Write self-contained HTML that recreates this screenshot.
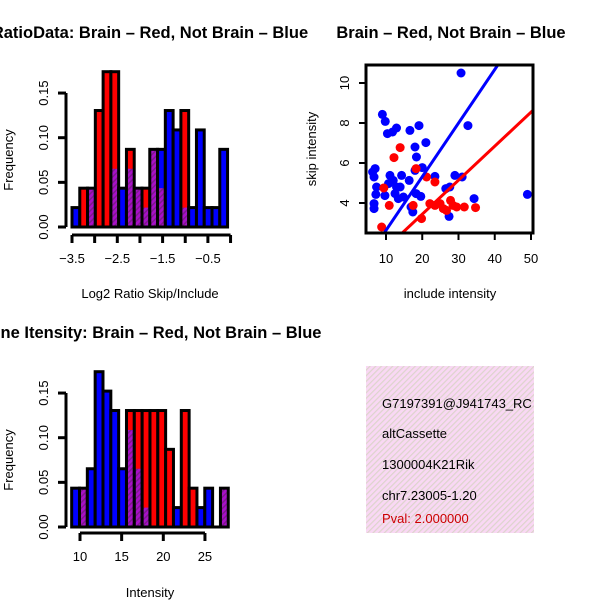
<!DOCTYPE html>
<html><head><meta charset="utf-8"><style>
html,body{margin:0;padding:0;background:#fff;}
svg{display:block;font-family:"Liberation Sans",sans-serif;}
</style></head><body>
<svg id="c" width="600" height="600" viewBox="0 0 600 600" xmlns="http://www.w3.org/2000/svg">
<defs>
<pattern id="purp" width="4" height="4" patternUnits="userSpaceOnUse" patternTransform="rotate(45)">
<rect width="4" height="4" fill="#a810c8"/><rect width="1.5" height="4" fill="#7d1a8c"/></pattern>
<pattern id="pink" width="4" height="4" patternUnits="userSpaceOnUse" patternTransform="rotate(45)">
<rect width="4" height="4" fill="#f9d8f4"/><rect width="1.2" height="4" fill="#ddd4cc"/></pattern>
<clipPath id="scClip"><rect x="366" y="65" width="167" height="168"/></clipPath>
<clipPath id="boxClip"><rect x="366" y="366" width="168" height="167"/></clipPath>
</defs>
<g id="h1"></g>
<g id="h2"></g>
<g id="sc"></g>
<g>
<rect x="366" y="366" width="168" height="167" fill="url(#pink)"/>
<g clip-path="url(#boxClip)" font-size="13">
<text x="382" y="408">G7197391@J941743_RC</text>
<text x="382" y="438">altCassette</text>
<text x="382" y="469">1300004K21Rik</text>
<text x="382" y="500">chr7.23005-1.20</text>
<text x="382" y="523" fill="#cc0000">Pval: 2.000000</text>
</g></g>
</svg>
<script>
// Histogram 1 data (units of 1/46)
const h1Red  = [0,2,2,6,8,8,0,4,2,2,4,2,0,0,6,0,0,0,0,0];
const h1Blue = [1,0,2,0,0,3,2,3,2,1,4,4,6,5,1,1,5,1,1,4];
const h1Start = -3.5, h1Width = 0.1717;
const h1Ticks = [-3.5,-3,-2.5,-2,-1.5,-1,-0.5,0];
const h1Labels = ["\u22123.5","","\u22122.5","","\u22121.5","","\u22120.5",""];
// Histogram 2 data
const h2Red  = [0,2,0,0,0,0,0,6,6,6,6,6,4,0,6,2,0,0,0,2];
const h2Blue = [2,2,3,8,7,6,3,5,3,1,0,0,0,1,0,0,1,2,0,2];
const h2Start = 9.0, h2Width = 0.94;
const h2Ticks = [10,15,20,25];
const yTicks = [0,0.05,0.10,0.15];
const yLabels = ["0.00","0.05","0.10","0.15"];
// Scatter data
const blueX = [9,9.8,10.4,11.8,12.9,16.6,19.1,21,18,18.4,30.7,32.6,6.3,7,6.7,7.4,7.2,6.7,6.7,9.7,11.1,12,12.9,12.5,13.4,14.3,14.8,16.4,18,20,18.3,19.6,16.9,17.4,23.5,26.5,27.6,29,31,34.3,27.4,49,13.9,10.7];
const blueY = [8.43,8.08,7.47,7.55,7.75,7.63,7.87,7.02,6.8,6.3,10.5,7.87,5.55,5.72,5.3,4.8,4.43,3.97,3.72,4.37,5.38,5.13,4.8,4.47,4.22,5.38,4.3,5.13,5.63,5.77,4.47,4.33,3.8,3.55,5.33,4.72,4.8,5.38,5.3,4.22,3.33,4.43,4.8,4.97];
const redX = [8.8,9.4,10.9,12.2,13.9,17.5,19.8,18.3,21.2,23.5,22.1,23.5,24.9,25.8,26.7,27.8,28.5,29.5,31.6,34.7];
const redY = [2.8,4.75,3.88,6.27,6.77,3.88,3.22,5.72,5.3,5.05,3.97,3.88,3.97,3.72,3.63,4.13,3.88,3.8,3.8,3.77];
const blueFit = [-0.046, 0.268];
const redFit = [0.04, 0.17];
const scXTicks = [10,20,30,40,50];
const scYTicks = [4,6,8,10];

const NS="http://www.w3.org/2000/svg";
function mk(parent, tag, attrs, text){const e=document.createElementNS(NS,tag);for(const k in attrs)e.setAttribute(k,attrs[k]);if(text!==undefined)e.textContent=text;parent.appendChild(e);return e;}

function hist(gid, red, blue, start, width, x0px, pxPerUnit, xStartVal, yBase, ticks, tickLabels, axisY, title, titleY, xlab, xlabY){
  const g=document.getElementById(gid);
  const X=v=>x0px+(v-xStartVal)*pxPerUnit;
  const Y=f=>yBase-f*893;
  const unit=1/46;
  for(let i=0;i<red.length;i++){
    const r=red[i], b=blue[i], hi=Math.max(r,b), lo=Math.min(r,b);
    const xa=X(start+i*width), xb=X(start+(i+1)*width);
    if(hi>0){
      const col = r>b ? "#ff0000" : (b>r ? "#0000ff" : "url(#purp)");
      const bar=mk(g,"rect",{x:xa,y:Y(hi*unit),width:xb-xa,height:yBase-Y(hi*unit),fill:col});
      
      
      if(lo>0){
        const ov=mk(g,"rect",{x:xa,y:Y(lo*unit),width:xb-xa,height:yBase-Y(lo*unit),fill:"url(#purp)"});
        
        
      }
      mk(g,"rect",{x:xa,y:Y(hi*unit),width:xb-xa,height:yBase-Y(hi*unit),fill:"none",stroke:"#000","stroke-width":3});
    }
  }
  mk(g,"line",{x1:X(start)-1,x2:X(start+red.length*width)+1,y1:yBase,y2:yBase,stroke:"#000","stroke-width":3});
  mk(g,"line",{x1:66,x2:66,y1:Y(0),y2:Y(0.15),stroke:"#000","stroke-width":3});
  yTicks.forEach((t,i)=>{mk(g,"line",{x1:58,x2:66,y1:Y(t),y2:Y(t),stroke:"#000","stroke-width":3});
    const tl=mk(g,"text",{x:0,y:0,transform:`translate(48,${Y(t)}) rotate(-90)`,"text-anchor":"middle","font-size":13},yLabels[i]);
    
    });
  mk(g,"line",{x1:X(ticks[0]),x2:X(ticks[ticks.length-1]),y1:axisY,y2:axisY,stroke:"#000","stroke-width":3});
  ticks.forEach((t,i)=>{mk(g,"line",{x1:X(t),x2:X(t),y1:axisY,y2:axisY+8,stroke:"#000","stroke-width":3});
    if(tickLabels[i]){const tl=mk(g,"text",{x:X(t),y:axisY+28,"text-anchor":"middle","font-size":13},tickLabels[i]);
    
    }});
  const tt=mk(g,"text",{x:150,y:titleY,"text-anchor":"middle","font-size":16.5,"font-weight":"bold"},title);
  
  
  const xl=mk(g,"text",{x:150,y:xlabY,"text-anchor":"middle","font-size":13},xlab);
  
  
  const yl=mk(g,"text",{x:0,y:0,transform:`translate(13,${(Y(0)+Y(0.15))/2}) rotate(-90)`,"text-anchor":"middle","font-size":13},"Frequency");
  
  
}
hist("h1",h1Red,h1Blue,h1Start,h1Width,72,45.3,-3.5,227,h1Ticks,h1Labels,235,"RatioData: Brain \u2013 Red, Not Brain \u2013 Blue",38,"Log2 Ratio Skip/Include",298);
hist("h2",h2Red,h2Blue,h2Start,h2Width,80,8.33,10,527,h2Ticks,h2Ticks.map(String),533,"Gene Itensity: Brain \u2013 Red, Not Brain \u2013 Blue",338,"Intensity",597);

(function(){
  const g=document.getElementById("sc");
  const X=v=>386+(v-10)*3.625, Y=v=>203-(v-4)*20;
  const cg=mk(g,"g",{"clip-path":"url(#scClip)"});
  for(let i=0;i<blueX.length;i++){const c=mk(cg,"circle",{cx:X(blueX[i]),cy:Y(blueY[i]),r:4.5,fill:"#0000ff"});
    
    }
  for(let i=0;i<redX.length;i++){const c=mk(cg,"circle",{cx:X(redX[i]),cy:Y(redY[i]),r:4.5,fill:"#ff0000"});
    
    }
  [[blueFit,"#0000ff","not-brain-fit-line"],[redFit,"#ff0000","brain-fit-line"]].forEach(([f,col,nm])=>{
    const l=mk(cg,"line",{x1:X(0),y1:Y(f[0]),x2:X(60),y2:Y(f[0]+f[1]*60),stroke:col,"stroke-width":3});
    
    });
  mk(g,"rect",{x:366,y:65,width:167,height:168,fill:"none",stroke:"#000","stroke-width":3});
  scXTicks.forEach(t=>{mk(g,"line",{x1:X(t),x2:X(t),y1:233,y2:240,stroke:"#000","stroke-width":2});
    const tl=mk(g,"text",{x:X(t),y:263,"text-anchor":"middle","font-size":13},String(t));
    
    });
  scYTicks.forEach(t=>{mk(g,"line",{x1:359,x2:366,y1:Y(t),y2:Y(t),stroke:"#000","stroke-width":2});
    const tl=mk(g,"text",{x:0,y:0,transform:`translate(349,${Y(t)}) rotate(-90)`,"text-anchor":"middle","font-size":13},String(t));
    
    });
  const tt=mk(g,"text",{x:451,y:38,"text-anchor":"middle","font-size":16.5,"font-weight":"bold"},"Brain \u2013 Red, Not Brain \u2013 Blue");
  
  
  const xl=mk(g,"text",{x:450,y:298,"text-anchor":"middle","font-size":13},"include intensity");
  
  
  const yl=mk(g,"text",{x:0,y:0,transform:"translate(316,149) rotate(-90)","text-anchor":"middle","font-size":13},"skip intensity");
  
  
})();
</script>
</body></html>
